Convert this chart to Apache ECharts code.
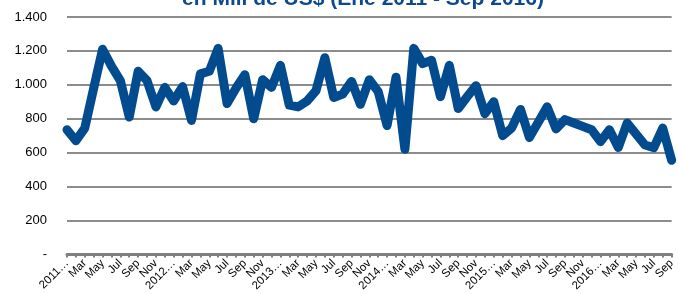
<!DOCTYPE html>
<html>
<head>
<meta charset="utf-8">
<script src="https://cdn.jsdelivr.net/npm/echarts@6/dist/echarts.min.js"></script>
<style>
  html, body { margin: 0; padding: 0; background: #fff; }
  #chart { width: 678px; height: 294px; }
</style>
</head>
<body>
<div id="chart"></div>
<script>
var years = ['2011', '2012', '2013', '2014', '2015', '2016'];
var tickMonths = ['', 'Feb', 'Mar', 'Apr', 'May', 'Jun', 'Jul', 'Aug', 'Sep', 'Oct', 'Nov', 'Dec'];
var lastMonth = 9; // Sep 2016

// exportaciones mensuales, en Mill de US$
var values = [
  735, 670, 745, 980, 1210, 1110, 1025, 810, 1080, 1025, 870, 985,
  905, 990, 790, 1065, 1080, 1215, 890, 980, 1060, 800, 1030, 985,
  1115, 880, 870, 905, 965, 1160, 925, 945, 1020, 885, 1030, 960,
  760, 1045, 620, 1215, 1125, 1145, 930, 1115, 860, 930, 995, 830,
  900, 700, 745, 855, 690, 780, 870, 740, 795, 775, 755, 735,
  665, 735, 630, 775, 710, 645, 630, 745, 555
];

var categories = [];
years.forEach(function(y, k) {
  var n = (k == years.length - 1) ? lastMonth : 12;
  for (var m = 0; m < n; m++) {
    categories.push(m == 0 ? y + '…' : tickMonths[m]);
  }
});

function fmtThousands(v) {
  if (v == 0) return '-';
  return String(v).replace(/\B(?=(\d{3})+(?!\d))/g, '.');
}

var chart = echarts.init(document.getElementById('chart'));
var option = {
  animation: false,
  backgroundColor: '#fff',
  graphic: [{
    type: 'text',
    x: 363,
    y: -1,
    style: {
      text: 'en Mill de US$ (Ene 2011 - Sep 2016)',
      font: 'bold 21px "Liberation Sans", Arial, sans-serif',
      fill: '#0b4a8b',
      textAlign: 'center',
      textVerticalAlign: 'middle'
    }
  }],
  grid: { left: 67, right: 3, top: 17, bottom: 38 },
  xAxis: {
    type: 'category',
    data: categories,
    boundaryGap: false,
    axisLine: { lineStyle: { color: '#7f7f7f', width: 3 } },
    axisTick: { show: true, interval: 0, length: 3, lineStyle: { color: '#7f7f7f', width: 2 } },
    axisLabel: {
      interval: 1,
      rotate: 45,
      margin: 7,
      color: '#000',
      fontSize: 11.5,
      fontFamily: '"Liberation Sans", Arial, sans-serif'
    },
    splitLine: { show: false }
  },
  yAxis: {
    type: 'value',
    min: 0,
    max: 1400,
    interval: 200,
    axisLine: { show: false },
    axisTick: { show: false },
    axisLabel: {
      margin: 20,
      color: '#000',
      fontSize: 13,
      fontFamily: '"Liberation Sans", Arial, sans-serif',
      formatter: fmtThousands
    },
    splitLine: { lineStyle: { color: '#8c8c8c', width: 2 } }
  },
  series: [{
    type: 'line',
    data: values,
    symbol: 'none',
    lineStyle: { color: '#034b8f', width: 9, join: 'round', cap: 'round' }
  }]
};
chart.setOption(option);
</script>
</body>
</html>
